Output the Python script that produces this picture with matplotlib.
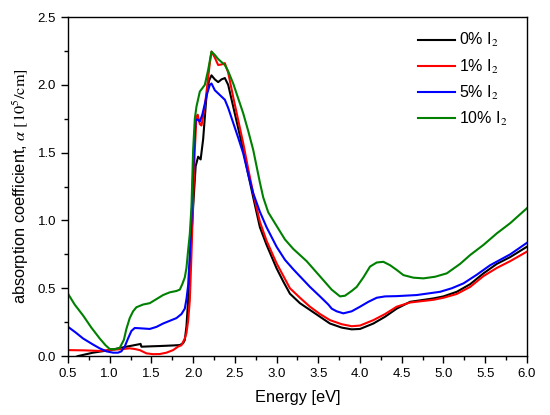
import matplotlib
matplotlib.use("Agg")
import matplotlib.pyplot as plt
from matplotlib.ticker import MultipleLocator, FormatStrFormatter

plt.rcParams['font.family'] = ['Liberation Sans', 'DejaVu Sans']
plt.rcParams['mathtext.fontset'] = 'stix'

labels = ["0% I$_2$", "1% I$_2$", "5% I$_2$", "10% I$_2$"]
colors = ["black", "#ff0000", "#0000ff", "#008000"]

e_black = [0.50, 0.62, 0.80, 1.00, 1.20, 1.36, 1.37, 1.38, 1.50, 1.60, 1.75, 1.84, 1.88, 1.90, 1.92, 1.94,
           1.96, 1.98, 2.00, 2.03, 2.06, 2.09, 2.12, 2.16, 2.19, 2.22, 2.26, 2.30, 2.34, 2.38, 2.42, 2.48,
           2.54, 2.60, 2.66, 2.72, 2.80, 2.88, 3.00, 3.08, 3.16, 3.28, 3.40, 3.52, 3.64, 3.78, 3.90, 4.00,
           4.16, 4.30, 4.44, 4.60, 4.88, 5.00, 5.16, 5.32, 5.48, 5.64, 5.80, 6.00]
a_black = [-0.03, 0.0, 0.025, 0.044, 0.069, 0.088, 0.090, 0.069, 0.072, 0.074, 0.078, 0.081, 0.095, 0.118, 0.22, 0.41,
           0.65, 0.88, 1.10, 1.40, 1.47, 1.45, 1.60, 1.92, 2.03, 2.07, 2.04, 2.02, 2.04, 2.05, 2.00, 1.84,
           1.68, 1.52, 1.34, 1.17, 0.95, 0.82, 0.647, 0.55, 0.46, 0.39, 0.34, 0.29, 0.24, 0.21, 0.197, 0.20,
           0.24, 0.29, 0.35, 0.40, 0.425, 0.44, 0.474, 0.53, 0.61, 0.68, 0.73, 0.806]

e_red = [0.50, 0.70, 0.88, 1.00, 1.12, 1.24, 1.30, 1.36, 1.44, 1.52, 1.60, 1.68, 1.76, 1.82, 1.86, 1.90,
         1.92, 1.94, 1.96, 1.98, 2.00, 2.02, 2.04, 2.055, 2.08, 2.10, 2.14, 2.17, 2.20, 2.22, 2.26, 2.30,
         2.34, 2.38, 2.42, 2.48, 2.54, 2.60, 2.66, 2.72, 2.80, 2.88, 3.00, 3.16, 3.28, 3.40, 3.52, 3.64,
         3.78, 3.90, 4.00, 4.16, 4.30, 4.44, 4.60, 4.88, 5.00, 5.16, 5.32, 5.48, 5.64, 5.80, 6.00]
a_red = [0.044, 0.042, 0.038, 0.045, 0.050, 0.057, 0.052, 0.044, 0.020, 0.014, 0.015, 0.025, 0.044, 0.070, 0.080, 0.13,
         0.17, 0.26, 0.41, 0.75, 1.15, 1.52, 1.765, 1.78, 1.71, 1.70, 1.84, 2.00, 2.16, 2.245, 2.20, 2.146,
         2.15, 2.16, 2.09, 1.91, 1.74, 1.57, 1.38, 1.20, 0.99, 0.85, 0.684, 0.50, 0.43, 0.364, 0.31, 0.265,
         0.235, 0.22, 0.225, 0.265, 0.31, 0.364, 0.395, 0.415, 0.43, 0.458, 0.51, 0.59, 0.65, 0.70, 0.77]

e_blue = [0.50, 0.60, 0.68, 0.80, 0.88, 0.96, 1.04, 1.10, 1.14, 1.18, 1.22, 1.26, 1.30, 1.36, 1.48, 1.56,
          1.64, 1.72, 1.80, 1.86, 1.90, 1.92, 1.94, 1.96, 1.98, 2.00, 2.02, 2.03, 2.05, 2.08, 2.11, 2.14,
          2.17, 2.20, 2.22, 2.26, 2.32, 2.38, 2.42, 2.48, 2.54, 2.60, 2.66, 2.72, 2.80, 2.88, 3.00, 3.10,
          3.20, 3.30, 3.40, 3.52, 3.62, 3.66, 3.72, 3.80, 3.90, 4.00, 4.10, 4.20, 4.30, 4.44, 4.68, 4.96,
          5.10, 5.24, 5.40, 5.56, 5.80, 6.00]
a_blue = [0.216, 0.17, 0.13, 0.085, 0.057, 0.035, 0.025, 0.025, 0.035, 0.07, 0.13, 0.185, 0.207, 0.205, 0.20, 0.215,
          0.24, 0.26, 0.28, 0.31, 0.35, 0.42, 0.52, 0.75, 1.00, 1.35, 1.65, 1.74, 1.745, 1.73, 1.78, 1.86,
          1.94, 2.00, 2.01, 1.96, 1.925, 1.89, 1.83, 1.72, 1.61, 1.495, 1.34, 1.20, 1.064, 0.95, 0.806, 0.71,
          0.64, 0.575, 0.51, 0.44, 0.38, 0.35, 0.33, 0.315, 0.33, 0.364, 0.40, 0.43, 0.44, 0.442, 0.45, 0.474,
          0.50, 0.536, 0.60, 0.67, 0.75, 0.835]

e_green = [0.50, 0.58, 0.68, 0.78, 0.88, 0.95, 1.00, 1.06, 1.12, 1.17, 1.20, 1.24, 1.28, 1.32, 1.40, 1.48,
           1.56, 1.64, 1.72, 1.80, 1.84, 1.87, 1.90, 1.92, 1.94, 1.96, 1.98, 2.00, 2.02, 2.04, 2.08, 2.14,
           2.18, 2.22, 2.26, 2.30, 2.38, 2.42, 2.48, 2.54, 2.60, 2.66, 2.72, 2.76, 2.80, 2.84, 2.90, 3.00,
           3.10, 3.20, 3.36, 3.46, 3.56, 3.66, 3.76, 3.82, 3.90, 3.96, 4.04, 4.12, 4.20, 4.28, 4.36, 4.44,
           4.52, 4.64, 4.76, 4.90, 5.04, 5.20, 5.32, 5.48, 5.64, 5.80, 6.00]
a_green = [0.46, 0.38, 0.30, 0.21, 0.13, 0.08, 0.052, 0.05, 0.06, 0.12, 0.20, 0.28, 0.33, 0.36, 0.38, 0.39,
           0.42, 0.45, 0.47, 0.48, 0.49, 0.53, 0.58, 0.65, 0.78, 0.90, 1.10, 1.52, 1.75, 1.84, 1.95, 2.00,
           2.11, 2.245, 2.22, 2.19, 2.146, 2.10, 2.01, 1.90, 1.79, 1.66, 1.52, 1.40, 1.28, 1.17, 1.06, 0.96,
           0.86, 0.79, 0.70, 0.63, 0.56, 0.49, 0.44, 0.445, 0.48, 0.51, 0.58, 0.66, 0.69, 0.695, 0.67, 0.635,
           0.597, 0.578, 0.573, 0.585, 0.61, 0.68, 0.745, 0.82, 0.905, 0.98, 1.09]

series = [(e_black, a_black), (e_red, a_red), (e_blue, a_blue), (e_green, a_green)]

fig = plt.figure(figsize=(5.5, 4.15), dpi=100)
ax = fig.add_axes([0.1236, 0.142, 0.958 - 0.1236, 0.959 - 0.142])

for (e, a), c, lab in zip(series, colors, labels):
    ax.plot(e, a, color=c, lw=1.5, label=lab)

ax.set_xlim(0.5, 6.0)
ax.set_ylim(0.0, 2.5)
ax.xaxis.set_major_locator(MultipleLocator(0.5))
ax.xaxis.set_minor_locator(MultipleLocator(0.25))
ax.yaxis.set_major_locator(MultipleLocator(0.5))
ax.yaxis.set_minor_locator(MultipleLocator(0.25))
ax.tick_params(which='both', direction='out', top=False, right=False, labelsize=9.5)
ax.tick_params(which='major', length=5, width=1)
ax.tick_params(which='minor', length=3, width=1)
ax.xaxis.set_major_formatter(FormatStrFormatter('%.1f'))
ax.yaxis.set_major_formatter(FormatStrFormatter('%.1f'))
for s in ax.spines.values():
    s.set_linewidth(1.0)

ax.set_xlabel("Energy [eV]", fontsize=11.8, labelpad=7)
ax.set_ylabel(r"absorption coefficient, $\alpha\ [10^5/\mathrm{cm}]$", fontsize=11.8, labelpad=5)

leg = ax.legend(loc='upper right', bbox_to_anchor=(0.99, 1.0), frameon=False, fontsize=11.5,
                handlelength=2.35, handletextpad=0.25, labelspacing=0.5)

fig.savefig("out.png", dpi=100)
